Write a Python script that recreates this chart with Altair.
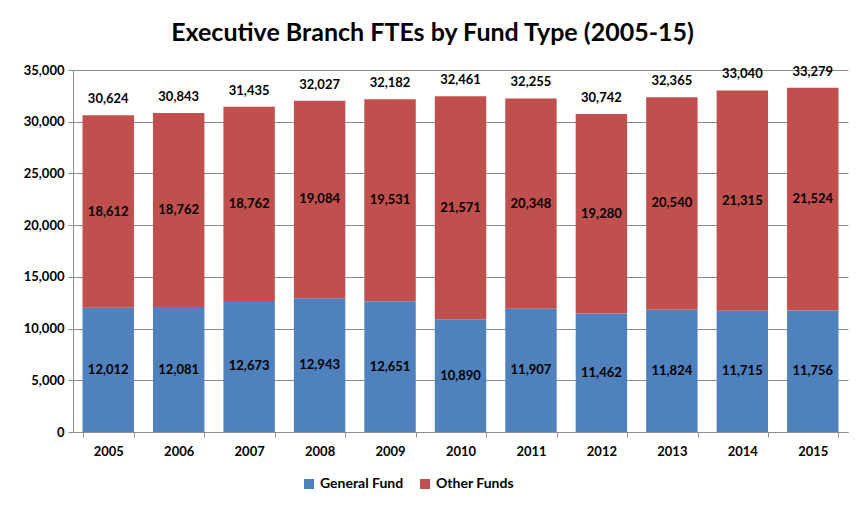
import altair as alt
import pandas as pd

years = ["2005", "2006", "2007", "2008", "2009", "2010", "2011", "2012", "2013", "2014", "2015"]
general_fund = [12012, 12081, 12673, 12943, 12651, 10890, 11907, 11462, 11824, 11715, 11756]
other_funds = [18612, 18762, 18762, 19084, 19531, 21571, 20348, 19280, 20540, 21315, 21524]
totals = [30624, 30843, 31435, 32027, 32182, 32461, 32255, 30742, 32365, 33040, 33279]
series = ["General Fund", "Other Funds"]
colors = ["#4F81BD", "#C0504D"]
y_ticks = [0, 5000, 10000, 15000, 20000, 25000, 30000, 35000]

rows = []
for i, yr in enumerate(years):
    rows.append({"year": yr, "fund": series[0], "value": general_fund[i], "order": 0})
    rows.append({"year": yr, "fund": series[1], "value": other_funds[i], "order": 1})
long_df = pd.DataFrame(rows)
tot_df = pd.DataFrame({"year": years, "total": totals})

FONT = "Lato"
GRAY = "#8c8c8c"

x_enc = alt.X(
    "year:N",
    title=None,
    sort=years,
    scale=alt.Scale(paddingInner=0.27, paddingOuter=0.135),
    axis=alt.Axis(labelAngle=0, tickBand="extent", tickSize=5, labelPadding=8,
                  domainColor=GRAY, tickColor=GRAY, grid=False),
)
y_scale = alt.Scale(domain=[0, 35000], nice=False)

base = alt.Chart(long_df)

bars = base.mark_bar().encode(
    x=x_enc,
    y=alt.Y("value:Q", stack="zero", scale=y_scale, title=None,
            axis=alt.Axis(values=y_ticks, format=",.0f", tickSize=5, labelPadding=4,
                          domainColor=GRAY, tickColor=GRAY, gridColor=GRAY)),
    color=alt.Color("fund:N", scale=alt.Scale(domain=series, range=colors),
                    legend=alt.Legend(title=None, orient="none", legendX=229, legendY=407,
                                      direction="horizontal", symbolType="square",
                                      symbolSize=100, symbolStrokeWidth=0,
                                      labelFont=FONT, labelFontSize=14, labelFontWeight="bold",
                                      labelColor="black", labelOffset=4, columnPadding=14)),
    order=alt.Order("order:Q"),
)

seg_labels = base.transform_stack(
    stack="value", groupby=["year"], as_=["v0", "v1"], sort=[alt.SortField("order")]
).transform_calculate(mid="(datum.v0 + datum.v1) / 2").mark_text(
    font=FONT, fontSize=13, fontWeight="bold", color="black"
).encode(
    x=alt.X("year:N", sort=years),
    y=alt.Y("mid:Q", scale=y_scale),
    text=alt.Text("value:Q", format=","),
)

tot_labels = alt.Chart(tot_df).mark_text(
    font=FONT, fontSize=13, fontWeight="bold", color="black", dy=-16
).encode(
    x=alt.X("year:N", sort=years),
    y=alt.Y("total:Q", scale=y_scale),
    text=alt.Text("total:Q", format=","),
)

chart = alt.layer(bars, seg_labels, tot_labels).properties(
    width=775,
    height=362,
    autosize=alt.AutoSizeParams(type="none"),
    padding={"left": 65, "top": 62, "right": 6, "bottom": 66},
    title=alt.Title("Executive Branch FTEs by Fund Type (2005-15)", font=FONT, fontSize=25,
                    fontWeight="bold", color="black", anchor="middle", dx=-28, offset=18),
).configure_view(stroke=None).configure_axis(
    labelFont=FONT, labelFontSize=13, labelFontWeight="bold", labelColor="black",
    domainWidth=1, tickWidth=1, gridWidth=1,
)

chart.save("out.html", embed_options={"renderer": "svg", "actions": False})
